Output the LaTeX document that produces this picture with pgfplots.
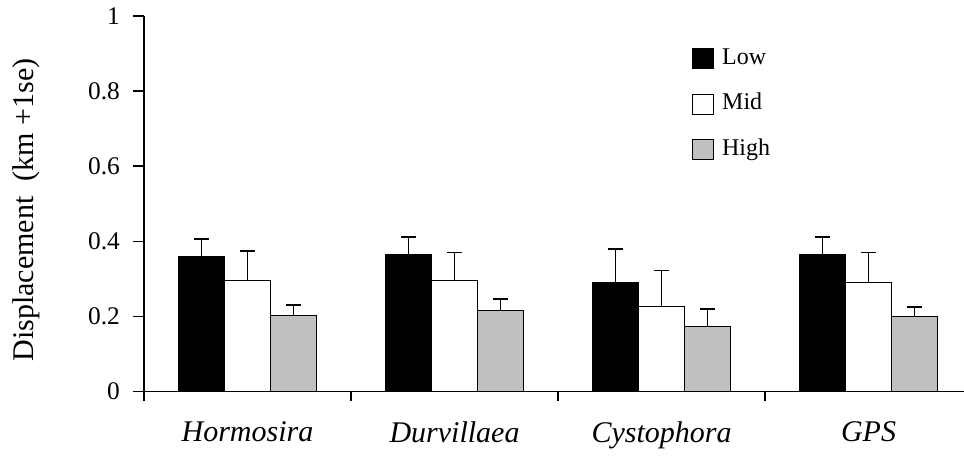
\documentclass[border=0pt]{standalone}
\usepackage{fontspec}
\setmainfont{Liberation Serif}
\usepackage{pgfplots}
\pgfplotsset{compat=1.18}

\definecolor{barGray}{HTML}{C0C0C0}

\begin{document}
\begin{tikzpicture}
\begin{axis}[
  name=ax,
  scale only axis,
  width=410pt, height=187.65pt,
  ybar=0pt,
  bar width=0.222,
  xmin=-0.5, xmax=3.461,
  ymin=0, ymax=1,
  enlargelimits=false,
  axis lines=left,
  axis line style={-, line width=0.65pt},
  tick align=outside,
  major tick length=5.5pt,
  minor tick length=5pt,
  tick style={line width=0.65pt, black},
  xtick={0,1,2,3},
  xticklabels={\textit{Hormosira},\textit{Durvillaea},\textit{Cystophora},\textit{GPS}},
  major x tick style={draw=none},
  minor xtick={-0.5,0.5,1.5,2.5},
  xticklabel style={font=\fontsize{15}{18}\selectfont, yshift=-6pt},
  ytick={0,0.2,0.4,0.6,0.8,1},
  yticklabel style={font=\fontsize{12.7}{15}\selectfont, xshift=-3pt},
  /pgf/number format/assume math mode=true,
  ylabel={Displacement\ \ (km +1se)},
  ylabel style={font=\fontsize{15}{18}\selectfont, at={(rel axis cs:-0.161,0.483)}, anchor=north, inner sep=0pt},
  legend image code/.code={\draw[#1, line width=0.5pt] (0pt,-5pt) rectangle (10.5pt,5pt);},
  legend style={at={(rel axis cs:0.668,0.915)}, anchor=north west, draw=none, fill=none,
    inner sep=0pt, row sep=12.25pt, column sep=4pt,
    font=\fontsize{12}{14}\selectfont,
    nodes={inner sep=0pt, text height=8pt, text depth=2.5pt, anchor=west}},
  legend cell align=left,
  error bars/y dir=plus,
  error bars/y explicit,
  error bars/error bar style={line width=0.5pt, black},
  error bars/error mark options={rotate=90, mark size=3.75pt, line width=0.65pt, black},
]
% Low
\addplot[fill=black, draw=black, line width=0.5pt]
  coordinates {(0,0.359) +- (0,0.047) (1,0.364) +- (0,0.047) (2,0.289) +- (0,0.090) (3,0.364) +- (0,0.047)};
% Mid
\addplot[fill=white, draw=black, line width=0.5pt]
  coordinates {(0,0.295) +- (0,0.079) (1,0.295) +- (0,0.074) (2,0.225) +- (0,0.096) (3,0.289) +- (0,0.080)};
% High
\addplot[fill=barGray, draw=black, line width=0.5pt]
  coordinates {(0,0.203) +- (0,0.027) (1,0.214) +- (0,0.032) (2,0.172) +- (0,0.047) (3,0.199) +- (0,0.026)};
\legend{Low, Mid, High}
\end{axis}
\pgfresetboundingbox
\useasboundingbox ([shift={(-72pt,-34.35pt)}]ax.south west) rectangle ([shift={(0pt,8pt)}]ax.north east);
\end{tikzpicture}
\end{document}
